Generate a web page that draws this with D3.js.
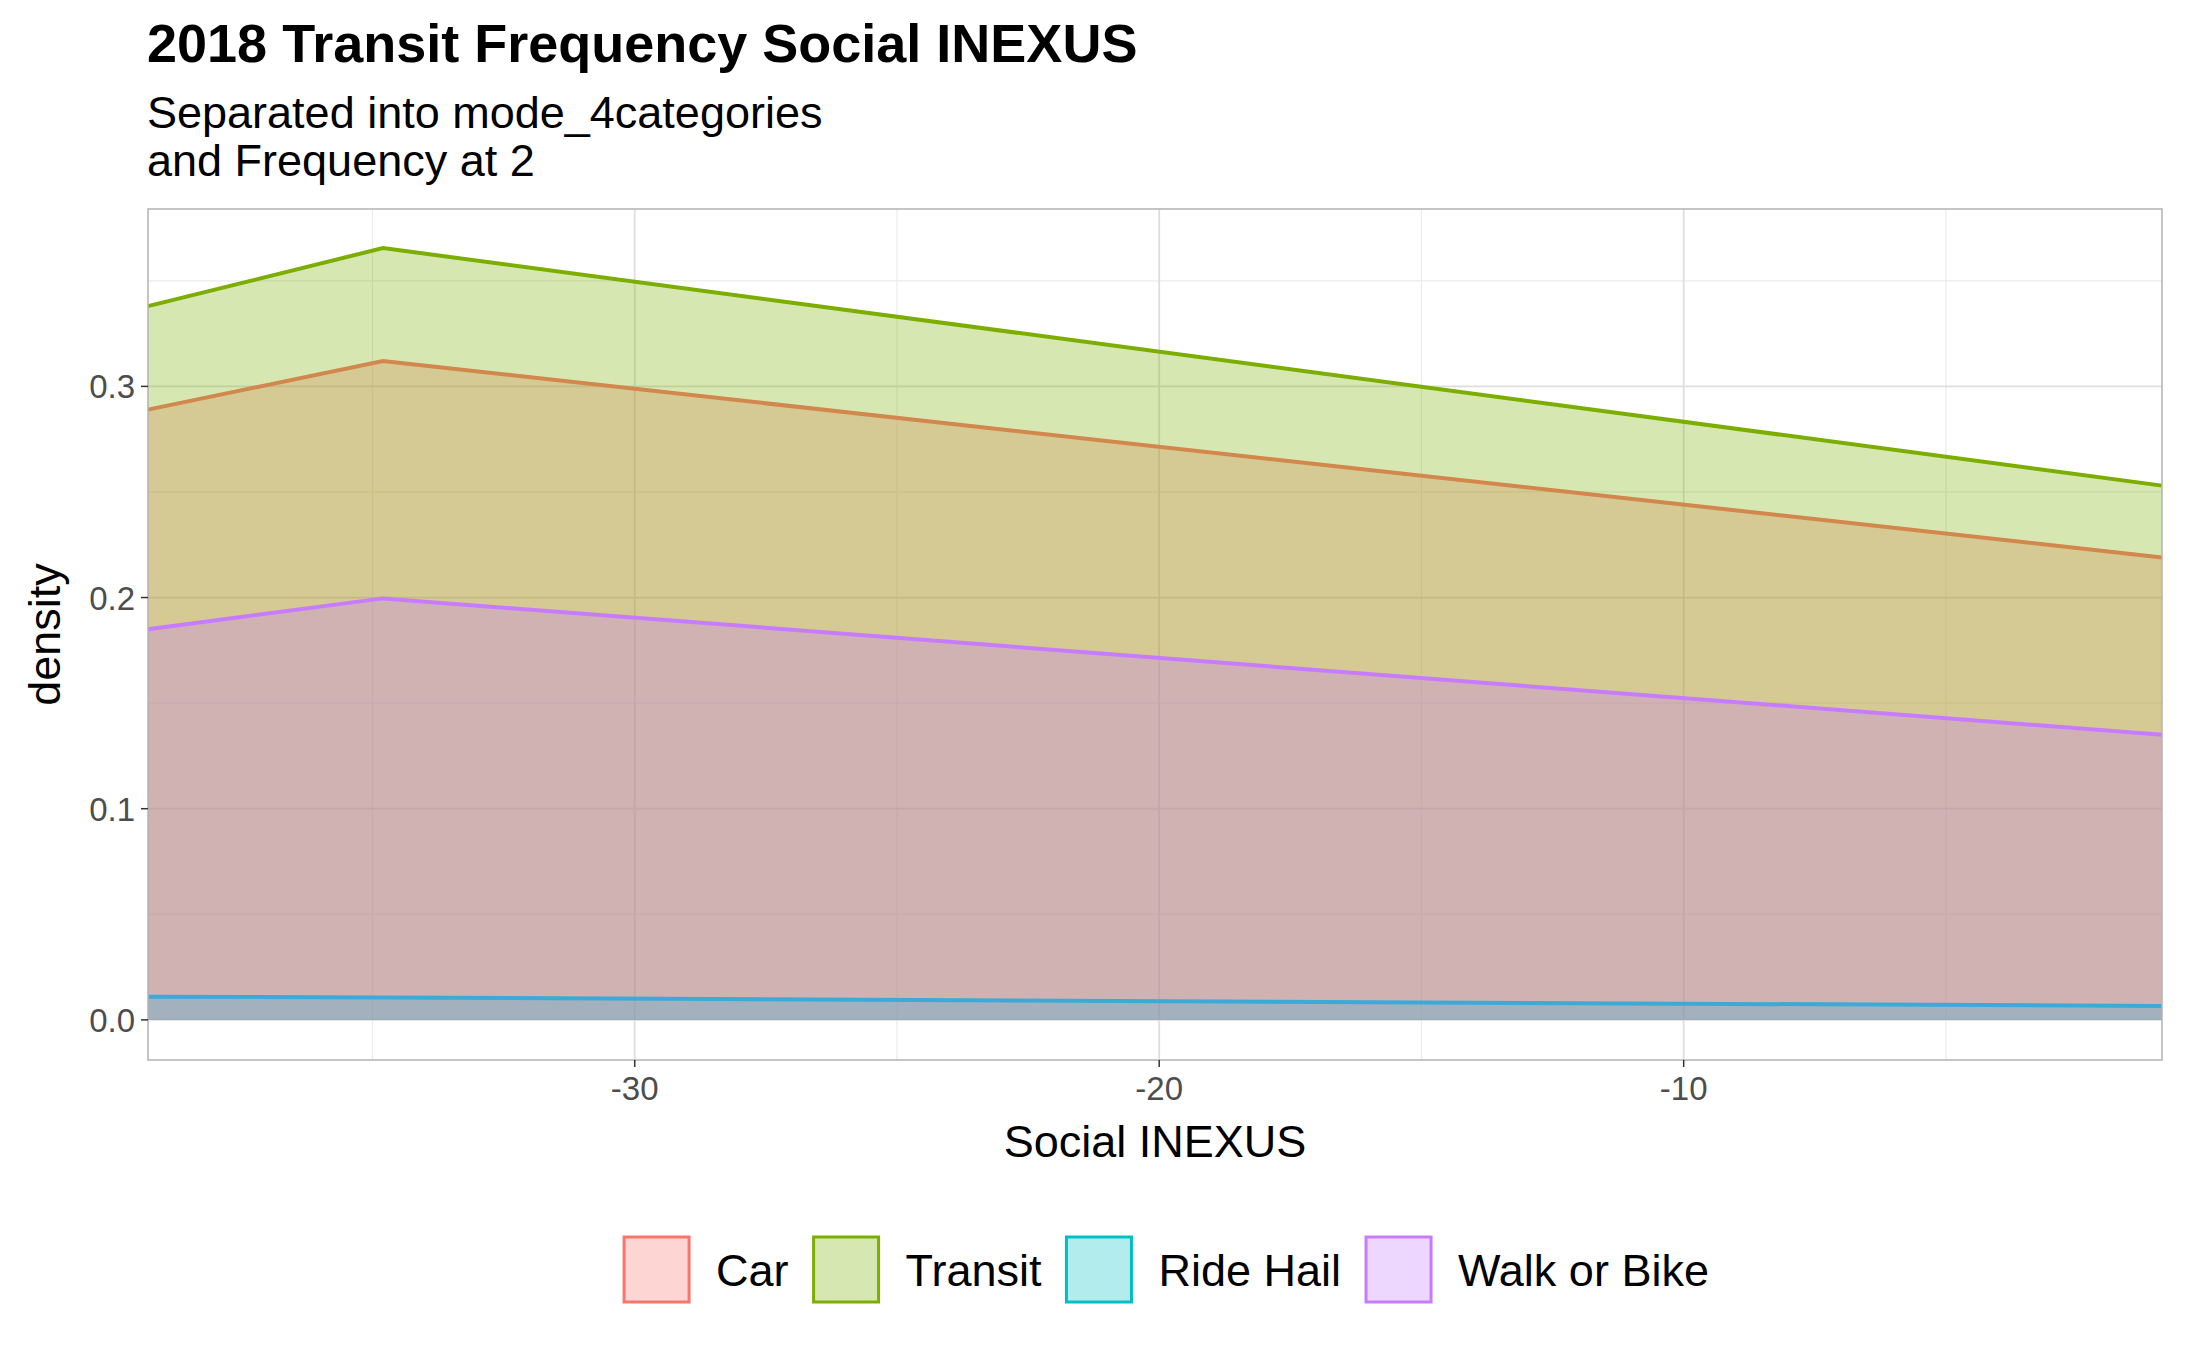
<!DOCTYPE html>
<html><head><meta charset="utf-8">
<script src="https://cdn.jsdelivr.net/npm/d3@7"></script>
<style>body{margin:0;background:#fff}text{font-family:"Liberation Sans",Arial,sans-serif}</style>
</head><body><div id="chart"></div>
<script>
// data
const categories = ["Car", "Transit", "Ride Hail", "Walk or Bike"];
const colors = ["#F8766D", "#7CAE00", "#00BFC4", "#C77CFF"];
const xValues = [-39.28, -34.8, -0.88];
const carValues = [0.289, 0.312, 0.219];
const transitValues = [0.338, 0.3655, 0.253];
const rideHailValues = [0.011, 0.0106, 0.0066];
const walkValues = [0.185, 0.1996, 0.135];
const xTicks = [-30, -20, -10];
const yTicks = [0, 0.1, 0.2, 0.3];
const series = [carValues, transitValues, rideHailValues, walkValues];

const W = 2187, H = 1351;
const m = { left: 148, right: 2162, top: 209, bottom: 1060 };
const svg = d3.select("#chart").append("svg").attr("width", W).attr("height", H);

const x = d3.scaleLinear().domain([-39.28, -0.88]).range([m.left, m.right]);
const y = d3.scaleLinear().domain([-0.019, 0.384]).range([m.bottom, m.top]);

// grid
const g = svg.append("g");
[-35, -25, -15, -5].forEach(v => g.append("line").attr("x1", x(v)).attr("x2", x(v)).attr("y1", m.top).attr("y2", m.bottom).attr("stroke", "#ebebeb").attr("stroke-width", 1.2));
[0.05, 0.15, 0.25, 0.35].forEach(v => g.append("line").attr("y1", y(v)).attr("y2", y(v)).attr("x1", m.left).attr("x2", m.right).attr("stroke", "#ebebeb").attr("stroke-width", 1.2));
xTicks.forEach(v => g.append("line").attr("x1", x(v)).attr("x2", x(v)).attr("y1", m.top).attr("y2", m.bottom).attr("stroke", "#dedede").attr("stroke-width", 1.8));
yTicks.forEach(v => g.append("line").attr("y1", y(v)).attr("y2", y(v)).attr("x1", m.left).attr("x2", m.right).attr("stroke", "#dedede").attr("stroke-width", 1.8));

// densities
const area = d3.area().x((d, i) => x(xValues[i])).y0(y(0)).y1(d => y(d));
const line = d3.line().x((d, i) => x(xValues[i])).y(d => y(d));
series.forEach((s, k) => {
  svg.append("path").datum(s).attr("d", area).attr("fill", colors[k]).attr("fill-opacity", 0.3);
  svg.append("path").datum(s).attr("d", line).attr("fill", "none").attr("stroke", colors[k]).attr("stroke-width", 4);
});

svg.append("rect").attr("x", m.left).attr("y", m.top).attr("width", m.right - m.left).attr("height", m.bottom - m.top)
  .attr("fill", "none").attr("stroke", "#b3b3b3").attr("stroke-width", 1.5);

// axes
xTicks.forEach(v => {
  svg.append("line").attr("x1", x(v)).attr("x2", x(v)).attr("y1", m.bottom).attr("y2", m.bottom + 7).attr("stroke", "#333").attr("stroke-width", 1.5);
  svg.append("text").attr("x", x(v)).attr("y", m.bottom + 40).attr("text-anchor", "middle").attr("font-size", 33).attr("fill", "#4d4d4d").text(v);
});
yTicks.forEach(v => {
  svg.append("line").attr("x1", m.left - 7).attr("x2", m.left).attr("y1", y(v)).attr("y2", y(v)).attr("stroke", "#333").attr("stroke-width", 1.5);
  svg.append("text").attr("x", m.left - 13).attr("y", y(v) + 12).attr("text-anchor", "end").attr("font-size", 33).attr("fill", "#4d4d4d").text(v.toFixed(1));
});
svg.append("text").attr("x", (m.left + m.right) / 2).attr("y", 1157).attr("text-anchor", "middle").attr("font-size", 45).text("Social INEXUS");
svg.append("text").attr("transform", `translate(60,${(m.top + m.bottom) / 2}) rotate(-90)`).attr("text-anchor", "middle").attr("font-size", 45).text("density");

// titles
svg.append("text").attr("x", 147).attr("y", 62).attr("font-size", 54).attr("font-weight", "bold").text("2018 Transit Frequency Social INEXUS");
svg.append("text").attr("x", 147).attr("y", 128).attr("font-size", 45).text("Separated into mode_4categories");
svg.append("text").attr("x", 147).attr("y", 176).attr("font-size", 45).text("and Frequency at 2");

// legend
const lg = svg.append("g");
const key = 67, gap = 26, spacing = 24;
let lx = 0;
categories.forEach((c, k) => {
  const it = lg.append("g");
  it.append("rect").attr("x", 1).attr("y", 1).attr("width", key - 2).attr("height", key - 2)
    .attr("fill", colors[k]).attr("fill-opacity", 0.3).attr("stroke", colors[k]).attr("stroke-width", 3);
  const t = it.append("text").attr("x", key + gap).attr("y", key / 2 + 16).attr("font-size", 45).text(c);
  const w = key + gap + t.node().getComputedTextLength();
  it.attr("transform", `translate(${lx},0)`);
  lx += w + spacing;
});
lg.attr("transform", `translate(${1166 - (lx - spacing) / 2},${1236})`);
</script></body></html>
